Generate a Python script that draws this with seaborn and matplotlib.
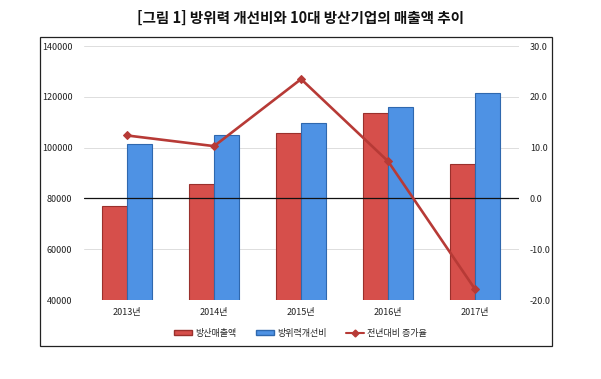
import matplotlib
matplotlib.use("Agg")
import matplotlib.pyplot as plt
import seaborn as sns
import pandas as pd
import numpy as np
from matplotlib.patches import Rectangle
from matplotlib.lines import Line2D
from matplotlib.patches import Patch

sns.set_theme(style="white")
plt.rcParams['font.family'] = ['Noto Sans CJK KR', 'DejaVu Sans']

years = ["2013년", "2014년", "2015년", "2016년", "2017년"]
sales = [77200, 85600, 105800, 113700, 93500]          # 방산매출액
budget = [101500, 104800, 109800, 116200, 121600]      # 방위력개선비
growth = [12.4, 10.3, 23.5, 7.3, -17.9]                # 전년대비 증가율

title = "[그림 1] 방위력 개선비와 10대 방산기업의 매출액 추이"
series_names = ["방산매출액", "방위력개선비", "전년대비 증가율"]

df = pd.DataFrame({
    "year": years * 2,
    "value": sales + budget,
    "series": [series_names[0]] * 5 + [series_names[1]] * 5,
})

red = "#D64F4B"
blue = "#4E92E4"
red_edge = "#9A302C"
blue_edge = "#2F68AE"
line_c = "#B73A36"

fig = plt.figure(figsize=(6.01, 3.79), dpi=100)
ax = fig.add_axes([0.139, 0.2084, 0.724, 0.670])

sns.barplot(data=df, x="year", y="value", hue="series",
            palette=[red, blue], saturation=1, width=0.58, gap=0, ax=ax,
            linewidth=0.8, legend=False)
for i, p in enumerate(ax.patches):
    p.set_edgecolor(red_edge if i < 5 else blue_edge)

ax.set_ylim(40000, 140000)
ax.set_yticks(np.arange(40000, 140001, 20000))
ax.set_yticklabels([f"{v:d}" for v in range(40000, 140001, 20000)])
ax.set_xlim(-0.5, 4.5)
ax.set_xlabel("")
ax.set_ylabel("")
ax.grid(axis="y", color="#DDDDDD", linewidth=0.7)
ax.set_axisbelow(True)
for s in ax.spines.values():
    s.set_visible(False)
ax.tick_params(axis="both", length=0, labelsize=6.5, colors="#222222")
ax.tick_params(axis="y", pad=8)
ax.tick_params(axis="x", pad=6)

ax2 = ax.twinx()
sns.lineplot(x=np.arange(len(years)), y=growth, ax=ax2, color=line_c,
             marker="D", markersize=4.5, linewidth=1.9, markeredgecolor=line_c)
ax2.set_ylim(-20, 30)
ax2.set_yticks(np.arange(-20, 31, 10))
ax2.set_yticklabels([f"{v:.1f}" for v in np.arange(-20, 31, 10)])
ax2.axhline(0, color="#111111", linewidth=0.9, zorder=1)
for s in ax2.spines.values():
    s.set_visible(False)
ax2.tick_params(axis="y", length=0, labelsize=6.5, colors="#222222", pad=8)
ax2.set_xlim(-0.5, 4.5)

handles = [Patch(facecolor=red, edgecolor=red_edge),
           Patch(facecolor=blue, edgecolor=blue_edge),
           Line2D([0], [0], color=line_c, marker="D", markersize=3.5, linewidth=1.5)]
fig.legend(handles, series_names, loc="center", bbox_to_anchor=(0.5, 0.121),
           ncol=3, frameon=False, fontsize=6.5, handlelength=2.0,
           handleheight=0.6, columnspacing=2.2, handletextpad=0.3)

fig.patches.append(Rectangle((0.0666, 0.087), 0.852, 0.815, transform=fig.transFigure,
                             fill=False, edgecolor="#222222", linewidth=0.9))

fig.text(0.5, 0.952, title, ha="center", va="center", fontsize=10.5,
         fontweight="bold", color="#111111")

fig.savefig("out.png", dpi=100)
